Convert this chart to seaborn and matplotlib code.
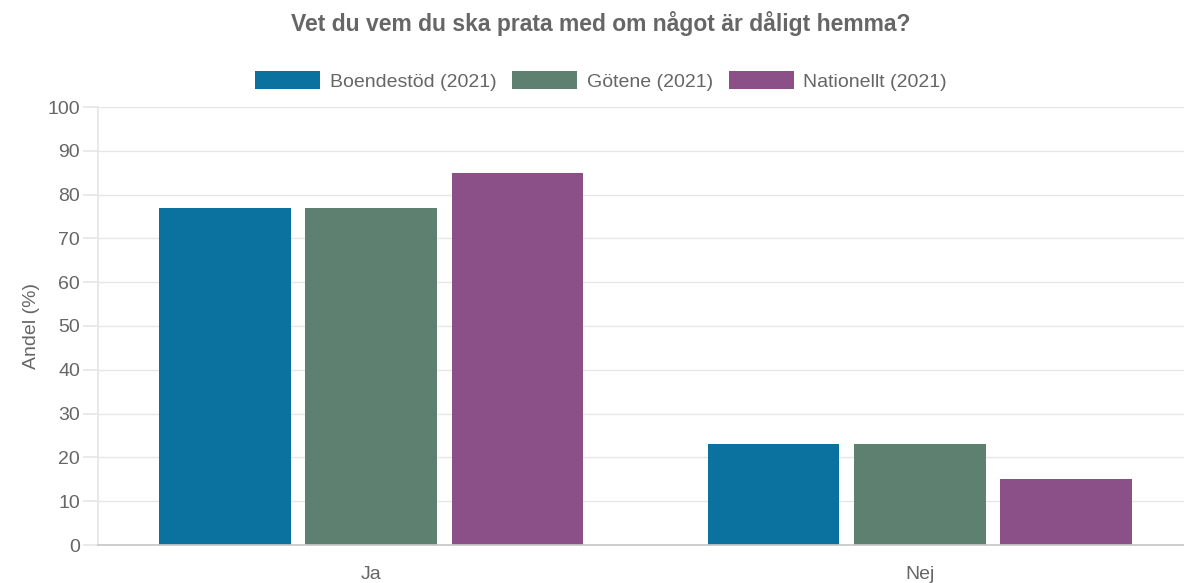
import matplotlib
matplotlib.use("Agg")
import matplotlib.pyplot as plt
import pandas as pd
import seaborn as sns

# data
categories = ["Ja", "Nej"]
series = ["Boendestöd (2021)", "Götene (2021)", "Nationellt (2021)"]
boendestod = [77, 23]
gotene = [77, 23]
nationellt = [85, 15]
colors = ["#0b72a0", "#5e8071", "#8b5088"]
yticks = [0, 10, 20, 30, 40, 50, 60, 70, 80, 90, 100]

df = pd.DataFrame({
    "svar": categories * 3,
    "grupp": [series[0]] * 2 + [series[1]] * 2 + [series[2]] * 2,
    "andel": boendestod + gotene + nationellt,
})

sns.set_theme(style="white")
plt.rcParams["font.family"] = ["Liberation Sans", "DejaVu Sans"]

fig = plt.figure(figsize=(11.84, 5.83), dpi=100)
ax = fig.add_axes([98 / 1184, 38 / 583, 1086 / 1184, 438 / 583])

sns.barplot(data=df, x="svar", y="andel", hue="grupp", palette=colors,
            width=0.8, gap=0.1, ax=ax, legend=False, saturation=1,
            edgecolor="none")

ax.set_xlim(-0.4977, 1.4813)
ax.set_ylim(0, 100)
ax.set_yticks(yticks)
ax.yaxis.grid(True, color="#e6e6e6", linewidth=1)
ax.set_axisbelow(True)

grey = "#666666"
fs = 14
ax.tick_params(axis="y", length=11, color="#e6e6e6", labelcolor=grey,
               labelsize=fs, pad=2, left=True)
ax.tick_params(axis="x", length=0, labelcolor=grey, labelsize=fs, pad=15)
ax.set_xlabel("")
ax.set_ylabel("Andel (%)", color=grey, fontsize=fs, labelpad=5)

for s in ["top", "right"]:
    ax.spines[s].set_visible(False)
ax.spines["left"].set_color("#e6e6e6")
ax.spines["bottom"].set_color("#c8c8c8")

handles = [plt.Rectangle((0, 0), 1, 1, facecolor=c, edgecolor="none") for c in colors]
fig.legend(handles, series, loc="center", bbox_to_anchor=(601 / 1184, 1 - 81 / 583),
           ncol=3, frameon=False, fontsize=fs, labelcolor=grey,
           handlelength=3.35, handleheight=1.0, handletextpad=0.5, columnspacing=0.8)

fig.suptitle("Vet du vem du ska prata med om något är dåligt hemma?",
             x=601 / 1184, y=1 - 24 / 583, va="center", fontsize=16.5,
             fontweight="bold", color=grey)

fig.savefig("out.png", dpi=100)
